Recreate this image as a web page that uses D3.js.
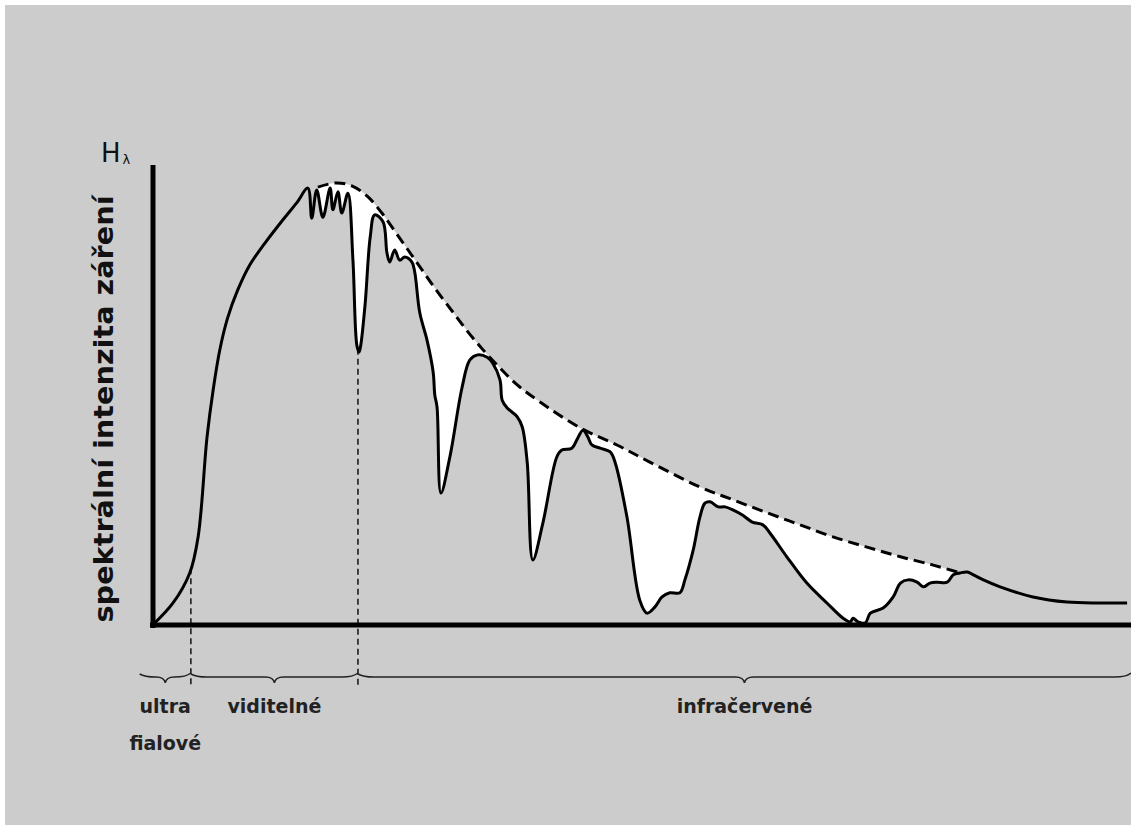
<!DOCTYPE html>
<html lang="cs">
<head>
<meta charset="utf-8">
<script src="https://cdn.jsdelivr.net/npm/d3@7"></script>
<style>
  body { margin: 0; background: #fff; }
  svg { display: block; }
</style>
</head>
<body>
<svg id="chart" width="1131" height="825"></svg>
<script>
// wavelength (nm) and relative intensity (0–100)
const spectrumWave = [332, 368, 398, 413, 429, 440, 452, 466, 484, 506, 533, 565, 590, 610,
  617, 626, 637, 650, 655, 664, 671, 682, 691, 698, 702, 705, 713, 722, 730,
  745, 752, 757, 766, 775, 784, 797, 802, 811, 824, 835, 838, 842, 849, 865,
  887, 901, 915, 932, 942, 955, 959, 968, 986, 995, 1004, 1014, 1032, 1057,
  1066, 1084, 1093, 1104, 1113, 1120, 1135, 1153, 1162, 1183, 1206, 1219,
  1233, 1246, 1260, 1278, 1287, 1302, 1314, 1323, 1332, 1347, 1359, 1374,
  1391, 1408, 1427, 1440, 1470, 1506, 1542, 1571, 1584, 1589, 1598, 1611,
  1620, 1643, 1661, 1674, 1688, 1704, 1715, 1727, 1740, 1758, 1769, 1781,
  1794, 1805, 1823, 1853, 1912, 1973, 2033, 2081];
const spectrumValue = [0.5, 5.2, 11.7, 19.5, 41.1, 51.3, 60.0, 66.9, 72.9, 78.4, 83.1, 88.1, 91.8, 95.0,
  88.5, 94.6, 88.7, 95.0, 90.3, 94.2, 89.6, 93.9, 79.4, 61.0, 59.5, 61.0, 70.1, 84.4, 89.2,
  87.7, 81.0, 79.0, 81.6, 79.4, 80.1, 79.0, 76.8, 68.0, 62.1, 55.2, 50.2, 47.6, 29.0, 36.8,
  51.9, 57.8, 58.9, 58.4, 57.1, 53.5, 49.1, 47.4, 45.5, 43.3, 35.5, 14.5, 22.5, 36.8,
  38.3, 38.7, 40.5, 42.6, 41.1, 39.4, 38.7, 37.9, 35.5, 23.8, 5.8, 3.0,
  4.3, 6.5, 7.4, 7.4, 10.2, 16.7, 23.8, 26.8, 27.1, 26.0, 26.0, 25.3,
  24.2, 22.7, 22.1, 20.3, 15.2, 9.5, 5.2, 1.9, 1.1, 1.9, 1.1, 0.9,
  3.0, 4.1, 6.5, 9.5, 10.2, 9.7, 8.7, 9.5, 9.7, 9.7, 11.3, 11.7,
  11.9, 11.3, 10.2, 8.7, 6.5, 5.4, 5.2, 5.2];

// spectrum without absorption (dashed envelope)
const envelopeWave = [628, 659, 689, 718, 743, 766, 790, 815, 842, 869, 896, 923,
  950, 986, 1027, 1099, 1165, 1224, 1314, 1374, 1435, 1494, 1553, 1614,
  1674, 1733, 1776];
const envelopeValue = [95.2, 96.1, 95.5, 93.1, 89.6, 85.7, 81.6, 77.3, 72.7, 68.4, 64.1, 60.2,
  56.7, 52.4, 48.7, 43.1, 39.4, 35.7, 30.3, 27.5, 24.7, 22.1, 19.5, 17.3,
  15.2, 13.4, 11.9];

const bandEdges = [308, 400, 700, 2088];
const bandLabels = [["ultra", "fialové"], ["viditelné"], ["infračervené"]];
const boundaryWave = [400, 700];
const yTitle = "spektrální intenzita záření";

const width = 1131, height = 825;
const svg = d3.select("#chart");

const x = d3.scaleLinear().domain([332, 2088]).range([153, 1131]);
const y = d3.scaleLinear().domain([0, 100]).range([627, 165]);

const spectrum = d3.zip(spectrumWave, spectrumValue);
const envelope = d3.zip(envelopeWave, envelopeValue);

function valueAt(w) {
  const i = d3.bisectLeft(spectrumWave, w);
  const w0 = spectrumWave[i - 1], w1 = spectrumWave[i];
  const t = (w - w0) / (w1 - w0);
  return spectrumValue[i - 1] + t * (spectrumValue[i] - spectrumValue[i - 1]);
}

// background with the thin white margin top/left
svg.append("rect")
  .attr("x", 5).attr("y", 5)
  .attr("width", width - 5).attr("height", height - 5)
  .attr("fill", "#cccccc");

const curve = d3.curveCatmullRom.alpha(0.5);

// white absorption area: under the envelope, above the measured spectrum
svg.append("clipPath")
  .attr("id", "above-spectrum")
  .append("path")
  .attr("d", d3.area().x(d => x(d[0])).y0(0).y1(d => y(d[1])).curve(curve)(spectrum));

svg.append("path")
  .attr("clip-path", "url(#above-spectrum)")
  .attr("fill", "#fff")
  .attr("d", d3.area().x(d => x(d[0])).y0(y(0)).y1(d => y(d[1])).curve(curve)(envelope));

// boundaries between the bands
svg.append("g")
  .attr("stroke", "#111")
  .attr("stroke-width", 1.5)
  .attr("stroke-dasharray", "6,4")
  .selectAll("line")
  .data(boundaryWave)
  .join("line")
  .attr("x1", d => x(d)).attr("x2", d => x(d))
  .attr("y1", d => y(valueAt(d)))
  .attr("y2", 686);

// axes
svg.append("line")
  .attr("x1", x.range()[0]).attr("x2", x.range()[0])
  .attr("y1", y.range()[1]).attr("y2", y(0) + 1)
  .attr("stroke", "#000").attr("stroke-width", 5);
svg.append("line")
  .attr("x1", x.range()[0] - 3).attr("x2", width)
  .attr("y1", y(0) - 2).attr("y2", y(0) - 2)
  .attr("stroke", "#000").attr("stroke-width", 5);

// spectrum line and envelope
svg.append("path")
  .attr("fill", "none")
  .attr("stroke", "#000")
  .attr("stroke-width", 3)
  .attr("stroke-linejoin", "round")
  .attr("d", d3.line().x(d => x(d[0])).y(d => y(d[1])).curve(curve)(spectrum));

svg.append("path")
  .attr("fill", "none")
  .attr("stroke", "#000")
  .attr("stroke-width", 3)
  .attr("stroke-dasharray", "11,6")
  .attr("d", d3.line().x(d => x(d[0])).y(d => y(d[1])).curve(curve)(envelope));

// braces under the axis
function brace(x0, x1, yb) {
  const p = d3.path();
  const m = (x0 + x1) / 2;
  p.moveTo(x0, yb - 3);
  p.quadraticCurveTo(x0 + 5, yb, x0 + 16, yb);
  p.lineTo(m - 9, yb);
  p.quadraticCurveTo(m - 1, yb, m, yb + 6);
  p.quadraticCurveTo(m + 1, yb, m + 9, yb);
  p.lineTo(x1 - 16, yb);
  p.quadraticCurveTo(x1 - 5, yb, x1, yb - 4);
  return p.toString();
}

const bands = d3.pairs(bandEdges).map((e, i) => ({from: e[0], to: e[1], label: bandLabels[i]}));

svg.append("g")
  .attr("fill", "none")
  .attr("stroke", "#222")
  .attr("stroke-width", 1.5)
  .selectAll("path")
  .data(bands)
  .join("path")
  .attr("d", d => brace(x(d.from), Math.min(x(d.to), width), 677));

svg.append("g")
  .attr("font-family", "'DejaVu Sans', sans-serif")
  .attr("font-weight", "bold")
  .attr("font-size", 19)
  .attr("fill", "#222")
  .attr("text-anchor", "middle")
  .selectAll("text")
  .data(bands)
  .join("text")
  .attr("x", d => (x(d.from) + Math.min(x(d.to), width)) / 2)
  .attr("y", 713)
  .selectAll("tspan")
  .data(d => d.label)
  .join("tspan")
  .attr("x", function() { return d3.select(this.parentNode).attr("x"); })
  .attr("dy", (d, i) => i ? 37 : 0)
  .text(d => d);

// axis titles
svg.append("text")
  .attr("transform", "translate(113,409) rotate(-90)")
  .attr("text-anchor", "middle")
  .attr("font-family", "'DejaVu Sans', sans-serif")
  .attr("font-weight", "bold")
  .attr("font-size", 26)
  .attr("textLength", 427)
  .attr("lengthAdjust", "spacingAndGlyphs")
  .attr("fill", "#111")
  .text(yTitle);

const hl = svg.append("text")
  .attr("x", 101).attr("y", 162)
  .attr("font-family", "'DejaVu Sans', sans-serif")
  .attr("fill", "#111");
hl.append("tspan").attr("font-size", 26).text("H");
hl.append("tspan").attr("font-size", 13).attr("dx", 2).attr("dy", 2).text("λ");
</script>
</body>
</html>
